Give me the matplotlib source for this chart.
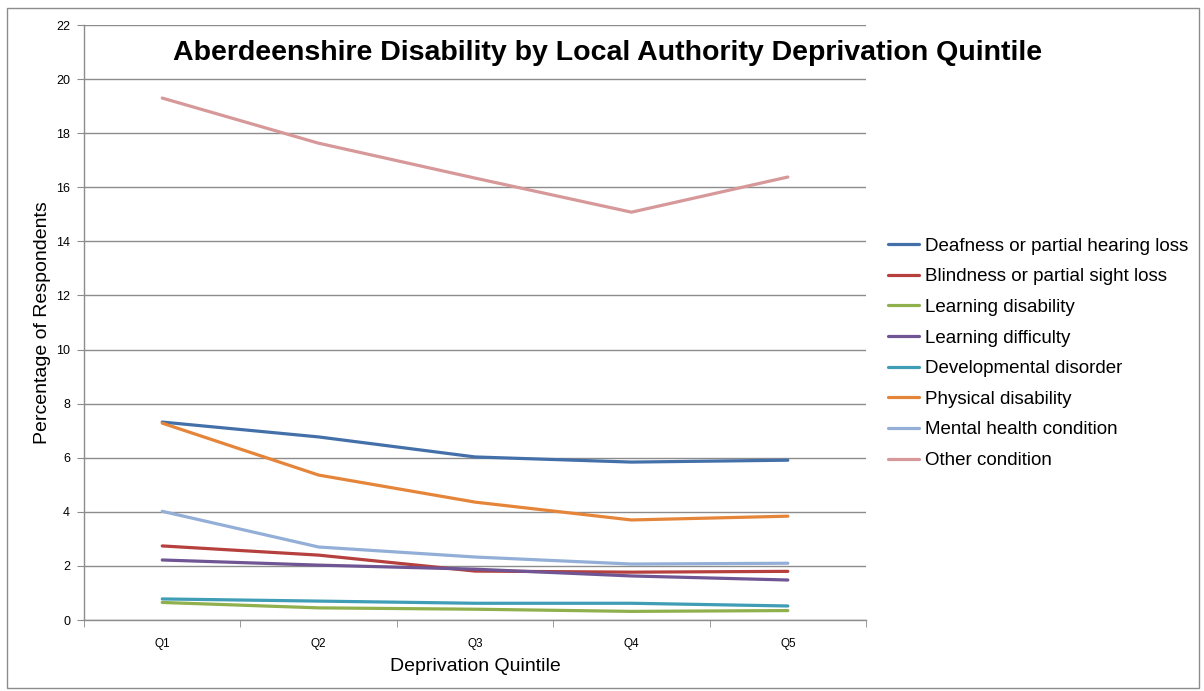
import matplotlib
matplotlib.use("Agg")
import matplotlib.pyplot as plt
from matplotlib.patches import Rectangle

plt.rcParams['font.family'] = ['Liberation Sans', 'DejaVu Sans']

quintiles = ["Q1", "Q2", "Q3", "Q4", "Q5"]

deafness = [7.32, 6.77, 6.03, 5.84, 5.91]
blindness = [2.74, 2.40, 1.81, 1.77, 1.80]
learning_disability = [0.65, 0.45, 0.40, 0.32, 0.35]
learning_difficulty = [2.22, 2.03, 1.88, 1.63, 1.48]
developmental = [0.78, 0.70, 0.62, 0.62, 0.52]
physical = [7.28, 5.36, 4.36, 3.70, 3.84]
mental_health = [4.02, 2.70, 2.33, 2.07, 2.10]
other = [19.30, 17.63, 16.34, 15.08, 16.38]

series_labels = [
    "Deafness or partial hearing loss",
    "Blindness or partial sight loss",
    "Learning disability",
    "Learning difficulty",
    "Developmental disorder",
    "Physical disability",
    "Mental health condition",
    "Other condition",
]
series_values = [deafness, blindness, learning_disability, learning_difficulty,
                 developmental, physical, mental_health, other]
series_colors = ["#4470AA", "#B5403D", "#8FB04C", "#6F5593",
                 "#3F9DB5", "#E5853A", "#93AFD7", "#D79899"]

fig = plt.figure(figsize=(12.04, 6.91), dpi=100)
ax = fig.add_axes([0.0698, 0.1027, 0.6495, 0.8611])

x = list(range(1, len(quintiles) + 1))
for vals, lab, col in zip(series_values, series_labels, series_colors):
    ax.plot(x, vals, color=col, lw=2.3, label=lab, solid_capstyle='round')

ax.set_xlim(0.5, 5.5)
ax.set_ylim(0, 22)
ax.set_yticks(range(0, 23, 2))
ax.set_xticks(x)
ax.set_xticklabels(quintiles)
ax.set_xticks([0.5 + i for i in range(6)], minor=True)
ax.tick_params(axis='x', which='major', length=0, pad=13, labelsize=8.5)
ax.tick_params(axis='x', which='minor', length=5, color='#8c8c8c', direction='out')
ax.tick_params(axis='y', length=5, color='#8c8c8c', direction='out', labelsize=9, pad=5)

ax.grid(axis='y', color='#8c8c8c', lw=1.0)
ax.set_axisbelow(True)
for s in ['top', 'right']:
    ax.spines[s].set_visible(False)
for s in ['left', 'bottom']:
    ax.spines[s].set_color('#8c8c8c')
    ax.spines[s].set_linewidth(1.0)

ax.set_ylabel("Percentage of Respondents", fontsize=14, labelpad=4)
ax.set_xlabel("Deprivation Quintile", fontsize=14, labelpad=6)

fig.text(0.505, 0.924, "Aberdeenshire Disability by Local Authority Deprivation Quintile",
         ha='center', va='center', fontsize=20.5, fontweight='bold')

leg = fig.legend(loc='upper left', bbox_to_anchor=(0.731, 0.667), frameon=False,
                 fontsize=13.5, handlelength=1.7, handletextpad=0.3, labelspacing=0.72,
                 borderaxespad=0)

fig.patches.append(Rectangle((0.006, 0.004), 0.99, 0.984, transform=fig.transFigure,
                             fill=False, edgecolor='#8c8c8c', lw=1.0))

fig.savefig("out.png", dpi=100)
